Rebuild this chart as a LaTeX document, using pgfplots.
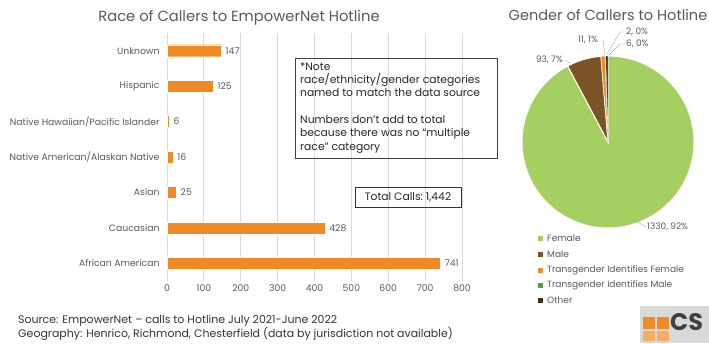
\documentclass[border=0pt]{standalone}
\usepackage{fontspec}
\setmainfont{Poppins}
\usepackage{pgfplots}
\pgfplotsset{compat=1.18}
\definecolor{barorange}{HTML}{F08A24}
\definecolor{txtgray}{HTML}{595959}
\definecolor{gridgray}{HTML}{D9D9D9}
\definecolor{female}{HTML}{A5CF61}
\definecolor{male}{HTML}{7A5426}
\definecolor{tif}{HTML}{F08A24}
\definecolor{tim}{HTML}{5A9A3C}
\definecolor{other}{HTML}{3E2C16}

\begin{document}
\begin{tikzpicture}[x=1bp,y=1bp]
\useasboundingbox (0,0) rectangle (709,343);

% ---- bar chart: race ----
\node[txtgray, font=\fontsize{14.8}{16}\selectfont] at (239,325) {Race of Callers to EmpowerNet Hotline};
\begin{axis}[
  at={(167bp,62bp)}, anchor=south west,
  scale only axis, width=295bp, height=248bp,
  xbar, bar width=12bp,
  xmin=0, xmax=800, ymin=-0.5, ymax=6.5,
  xtick={0,100,...,800},
  ytick={0,...,6},
  yticklabels={African American,Caucasian,Asian,Native American/Alaskan Native,Native Hawaiian/Pacific Islander,Hispanic,Unknown},
  xmajorgrids, grid style={gridgray, line width=0.8pt},
  axis line style={draw=none},
  major tick length=0pt,
  tick label style={txtgray, font=\fontsize{9.3}{10}\selectfont},
  /pgf/number format/assume math mode=true,
  yticklabel style={xshift=-4bp},
  nodes near coords,
  nodes near coords style={txtgray, font=\fontsize{9.3}{10}\selectfont, xshift=1bp},
]
\addplot[fill=barorange, draw=white, line width=0.4pt] coordinates {
(741,0) (428,1) (25,2) (16,3) (6,4) (125,5) (147,6)
};
\end{axis}

% note boxes
\draw[black!75, line width=0.7pt] (295,185) rectangle (497,285);
\node[anchor=north west, align=left, inner sep=0pt, font=\fontsize{10.8}{13.4}\selectfont, text=black!85] at (300,281)
{*Note\\race/ethnicity/gender categories\\named to match the data source\\[13.4bp]Numbers don't add to total\\because there was no “multiple\\race” category};
\draw[black!80, line width=0.8pt] (355,136) rectangle (461,156);
\node[font=\fontsize{10.8}{12}\selectfont, text=black!85] at (408,146) {Total Calls:~1,442};

% ---- pie chart: gender ----
\node[txtgray, font=\fontsize{14.6}{16}\selectfont] at (608,328) {Gender of Callers to Hotline};
\pgfmathsetmacro\tot{1330+93+11+2+6}
\pgfmathsetmacro\aA{1330/\tot*360}
\pgfmathsetmacro\aB{\aA+93/\tot*360}
\pgfmathsetmacro\aC{\aB+11/\tot*360}
\pgfmathsetmacro\aD{\aC+2/\tot*360}
\begin{axis}[
  at={(608bp,201bp)}, anchor=center,
  scale only axis, width=172bp, height=172bp,
  hide axis, clip=false,
  xmin=-86, xmax=86, ymin=-86, ymax=86,
]
\addplot[fill=female, draw=white, line width=1pt, domain=0:\aA, samples=150] ({86*sin(x)},{86*cos(x)}) -- (axis cs:0,0) -- cycle;
\addplot[fill=male, draw=white, line width=1pt, domain=\aA:\aB, samples=20] ({86*sin(x)},{86*cos(x)}) -- (axis cs:0,0) -- cycle;
\addplot[fill=tif, draw=white, line width=0.5pt, domain=\aB:\aC, samples=5] ({86*sin(x)},{86*cos(x)}) -- (axis cs:0,0) -- cycle;
\addplot[fill=tim, draw=white, line width=0.2pt, domain=\aC:\aD, samples=3] ({86*sin(x)},{86*cos(x)}) -- (axis cs:0,0) -- cycle;
\addplot[fill=other, draw=white, line width=0.3pt, domain=\aD:360, samples=4] ({86*sin(x)},{86*cos(x)}) -- (axis cs:0,0) -- cycle;
\end{axis}

% pie labels and leader lines
\begin{scope}[txtgray, font=\fontsize{9}{10}\selectfont]
\draw[gray!70, line width=0.4pt] (636,122) -- (646,116);
\node[anchor=west, inner sep=1pt] at (646,116) {1330, 92\%};
\draw[gray!70, line width=0.4pt] (564,283) -- (570,280);
\node[anchor=east, inner sep=1pt] at (564,283) {93, 7\%};
\draw[gray!70, line width=0.4pt] (599,303) -- (603,303) -- (605,288);
\node[anchor=east, inner sep=1pt] at (599,303) {11, 1\%};
\draw[gray!70, line width=0.4pt] (625,311) -- (620,311) -- (607,289);
\node[anchor=west, inner sep=1pt] at (625,311) {2, 0\%};
\draw[gray!70, line width=0.4pt] (625,299) -- (620,299) -- (609,288);
\node[anchor=west, inner sep=1pt] at (625,299) {6, 0\%};
\end{scope}

% legend
\begin{scope}[txtgray, font=\fontsize{9.1}{10}\selectfont]
\fill[female] (538,102.5) rectangle (543,107.5);
\node[anchor=west, inner sep=1pt] at (546,105) {Female};
\fill[male] (538,86.5) rectangle (543,91.5);
\node[anchor=west, inner sep=1pt] at (546,89) {Male};
\fill[tif] (538,70.5) rectangle (543,75.5);
\node[anchor=west, inner sep=1pt] at (546,73) {Transgender Identifies Female};
\fill[tim] (538,55.5) rectangle (543,60.5);
\node[anchor=west, inner sep=1pt] at (546,58) {Transgender Identifies Male};
\fill[other] (538,40.5) rectangle (543,45.5);
\node[anchor=west, inner sep=1pt] at (546,43) {Other};
\end{scope}

% source
\node[anchor=west, inner sep=0pt, align=left, text=black!80, font=\fontsize{11}{14}\selectfont] at (18,15)
{Source: EmpowerNet – calls to Hotline July 2021-June 2022\\Geography: Henrico, Richmond, Chesterfield (data by jurisdiction not available)};

% logo
\fill[gray!30] (640,0) rectangle (709,37);
\fill[barorange] (643,14) rectangle (655,26);
\fill[barorange] (657,14) rectangle (669,26);
\fill[barorange!70] (643,2) rectangle (655,12);
\fill[barorange!70] (657,2) rectangle (669,12);
\node[anchor=west, inner sep=0pt, text=black!75, font=\fontsize{24}{24}\selectfont\bfseries] at (670,21) {CS};
\end{tikzpicture}
\end{document}
